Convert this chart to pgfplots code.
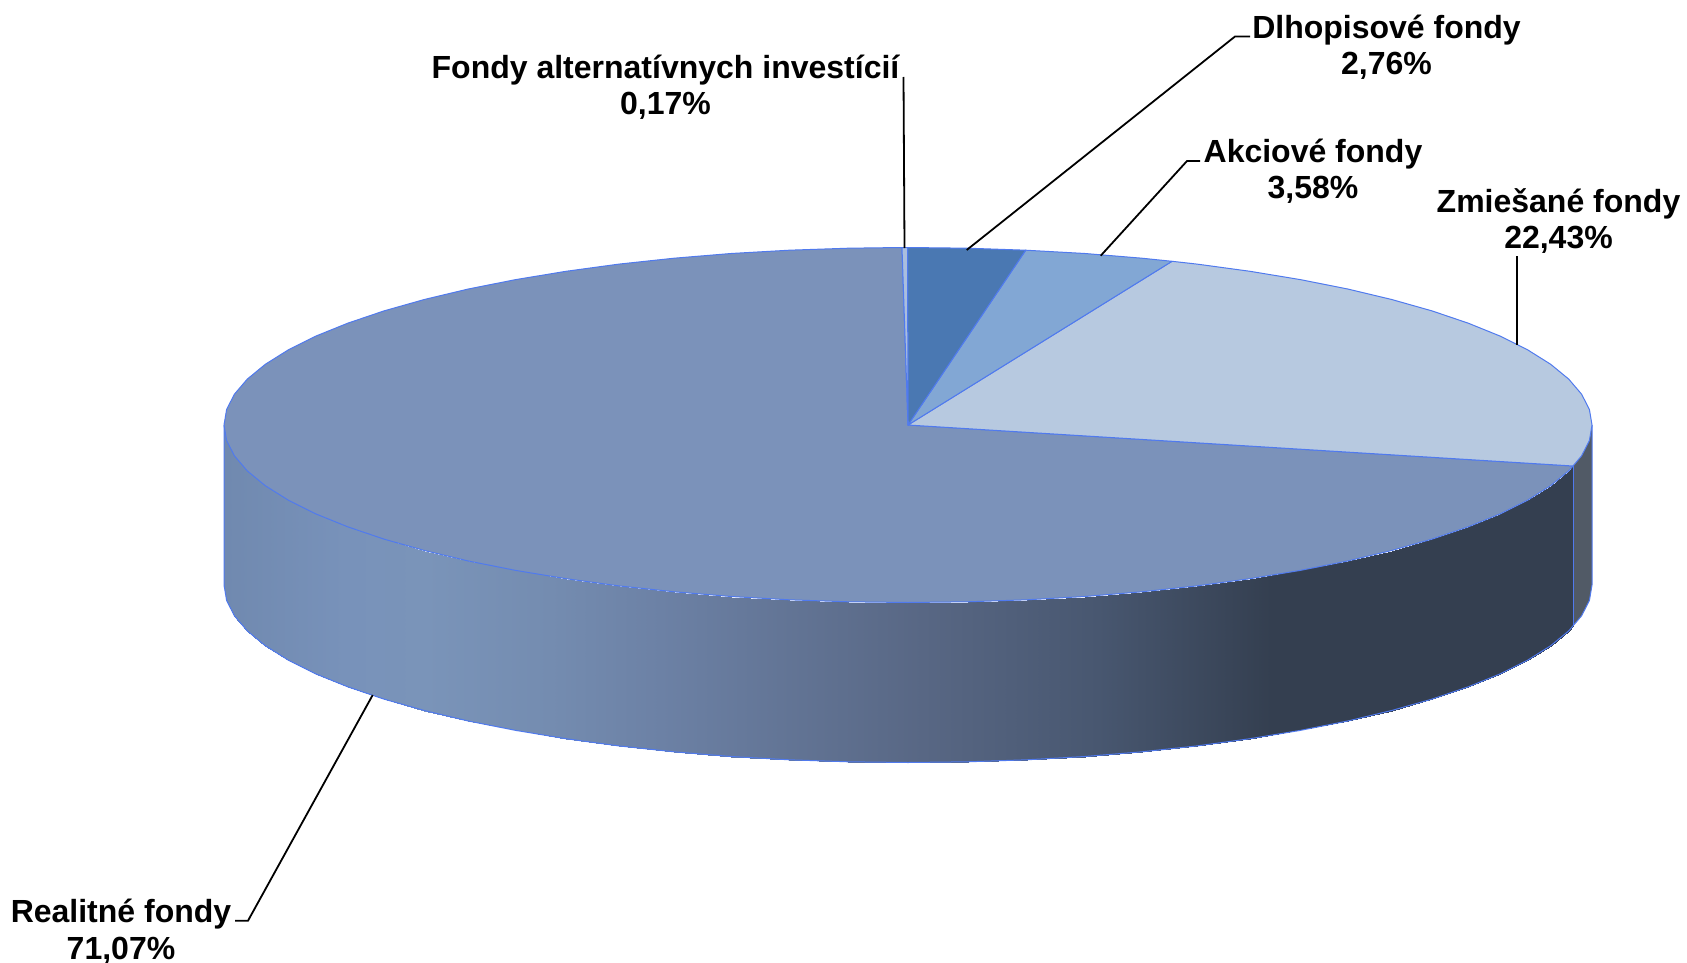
\documentclass[border=0pt]{standalone}
\usepackage{pgfplots}
\pgfplotsset{compat=1.18}
\usepackage{fontspec}
\setmainfont{Liberation Sans}
\definecolor{edge}{RGB}{80,122,238}
\definecolor{cReal}{RGB}{123,146,186}
\definecolor{cZmi}{RGB}{183,201,224}
\definecolor{cAkc}{RGB}{130,167,212}
\definecolor{cDlh}{RGB}{74,120,178}
\definecolor{cAlt}{RGB}{170,190,221}
\definecolor{cSide}{RGB}{81,90,102}
\tikzset{lab/.style={font=\fontsize{32}{36.5}\selectfont\bfseries, align=center, inner sep=0pt, text=black}}
\begin{document}
\begin{tikzpicture}
\useasboundingbox (0,0) rectangle (1687pt,963pt);
\begin{axis}[
  at={(0,0)}, anchor=south west,
  scale only axis, width=1687pt, height=963pt,
  xmin=0, xmax=1687, ymin=0, ymax=963, y dir=reverse,
  hide axis, clip=false,
  colormap={side}{
    rgb255(224)=(112,137,175)
    rgb255(345)=(120,146,186)
    rgb255(425)=(122,148,185)
    rgb255(550)=(116,140,176)
    rgb255(661)=(108,129,165)
    rgb255(923)=(88,103,132)
    rgb255(1098)=(72,87,112)
    rgb255(1272)=(52,63,80)
    rgb255(1592)=(52,63,80)
  },
  point meta min=224, point meta max=1592,
]
% side of Realitne fondy
\addplot[surf, shader=interp, mesh/rows=35, mesh/cols=2, point meta=x] table {
x y
1573 466
1573 626
1568.7 470.9
1568.7 630.9
1550.7 485.7
1550.7 645.7
1527.9 500
1527.9 660
1500.4 513.8
1500.4 673.8
1468.3 526.8
1468.3 686.8
1432 539.1
1432 699.1
1391.7 550.5
1391.7 710.5
1347.7 561
1347.7 721
1300.3 570.4
1300.3 730.4
1250 578.7
1250 738.7
1197.1 585.9
1197.1 745.9
1141.9 591.8
1141.9 751.8
1085 596.5
1085 756.5
1026.8 599.8
1026.8 759.8
967.6 601.8
967.6 761.8
908 602.5
908 762.5
848.4 601.8
848.4 761.8
789.2 599.8
789.2 759.8
731 596.5
731 756.5
674.1 591.8
674.1 751.8
618.9 585.9
618.9 745.9
566 578.7
566 738.7
515.7 570.4
515.7 730.4
468.3 561
468.3 721
424.3 550.5
424.3 710.5
384 539.1
384 699.1
347.7 526.8
347.7 686.8
315.6 513.8
315.6 673.8
288.1 500
288.1 660
265.3 485.7
265.3 645.7
247.3 470.9
247.3 630.9
234.4 455.8
234.4 615.8
226.6 440.5
226.6 600.5
224 425
224 585
};
% side of Zmiesane fondy
\addplot[fill=cSide, draw=none] coordinates {(1573,466)(1581.6,455.8)(1589.4,440.5)(1592,425)(1592,585)(1589.4,600.5)(1581.6,615.8)(1573,626)} --cycle;
% outline of the side
\addplot[draw=edge, line width=1pt] coordinates {(1592,425)(1592,585)(1589.4,600.5)(1581.6,615.8)(1568.7,630.9)(1550.7,645.7)(1527.9,660)(1500.4,673.8)(1468.3,686.8)(1432,699.1)(1391.7,710.5)(1347.7,721)(1300.3,730.4)(1250,738.7)(1197.1,745.9)(1141.9,751.8)(1085,756.5)(1026.8,759.8)(967.6,761.8)(908,762.5)(848.4,761.8)(789.2,759.8)(731,756.5)(674.1,751.8)(618.9,745.9)(566,738.7)(515.7,730.4)(468.3,721)(424.3,710.5)(384,699.1)(347.7,686.8)(315.6,673.8)(288.1,660)(265.3,645.7)(247.3,630.9)(234.4,615.8)(226.6,600.5)(224,585)(224,425)};
\addplot[draw=edge, line width=0.8pt] coordinates {(1573,466)(1573,626)};
% top: Realitne fondy 71,07
\addplot[fill=cReal, draw=edge, line width=1pt, line join=round] coordinates {(908,425)(1573,466)(1568.7,470.9)(1550.7,485.7)(1527.9,500)(1500.4,513.8)(1468.3,526.8)(1432,539.1)(1391.7,550.5)(1347.7,561)(1300.3,570.4)(1250,578.7)(1197.1,585.9)(1141.9,591.8)(1085,596.5)(1026.8,599.8)(967.6,601.8)(908,602.5)(848.4,601.8)(789.2,599.8)(731,596.5)(674.1,591.8)(618.9,585.9)(566,578.7)(515.7,570.4)(468.3,561)(424.3,550.5)(384,539.1)(347.7,526.8)(315.6,513.8)(288.1,500)(265.3,485.7)(247.3,470.9)(234.4,455.8)(226.6,440.5)(224,425)(226.6,409.5)(234.4,394.2)(247.3,379.1)(265.3,364.3)(288.1,350)(315.6,336.2)(347.7,323.2)(384,310.9)(424.3,299.5)(468.3,289)(515.7,279.6)(566,271.3)(618.9,264.1)(674.1,258.2)(731,253.5)(789.2,250.2)(848.4,248.2)(902,247.5)} --cycle;
% top: Zmiesane fondy 22,43
\addplot[fill=cZmi, draw=edge, line width=1pt, line join=round] coordinates {(908,425)(1172,261.3)(1197.1,264.1)(1250,271.3)(1300.3,279.6)(1347.7,289)(1391.7,299.5)(1432,310.9)(1468.3,323.2)(1500.4,336.2)(1527.9,350)(1550.7,364.3)(1568.7,379.1)(1581.6,394.2)(1589.4,409.5)(1592,425)(1589.4,440.5)(1581.6,455.8)(1573,466)} --cycle;
% top: Akciove fondy 3,58
\addplot[fill=cAkc, draw=edge, line width=1pt, line join=round] coordinates {(908,425)(1025.7,250.2)(1085,253.5)(1141.9,258.2)(1172,261.3)} --cycle;
% top: Dlhopisove fondy 2,76
\addplot[fill=cDlh, draw=edge, line width=1pt, line join=round] coordinates {(908,425)(907.5,247.5)(967.6,248.2)(1025.7,250.2)} --cycle;
% top: Fondy alternativnych investicii 0,17
\addplot[fill=cAlt, draw=edge, line width=1pt, line join=round] coordinates {(908,425)(902,247.5)(907.5,247.5)} --cycle;
% leader lines
\addplot[black, line width=1.8pt] coordinates {(903.5,77)(904.5,248)};
\addplot[black, line width=1.8pt] coordinates {(966.7,250)(1235,36.5)(1250,36.5)};
\addplot[black, line width=1.8pt] coordinates {(1100.7,255.7)(1187,161)(1200,161)};
\addplot[black, line width=1.8pt] coordinates {(1517,345)(1517,256)};
\addplot[black, line width=1.8pt] coordinates {(372.7,695)(248,920.7)(235,920.7)};
% labels
\node[lab] at (axis cs:665.5,87) {Fondy alternatívnych investícií\\0,17\%};
\node[lab] at (axis cs:1386.5,47) {Dlhopisové fondy\\2,76\%};
\node[lab] at (axis cs:1313,171) {Akciové fondy\\3,58\%};
\node[lab] at (axis cs:1558.5,221) {Zmiešané fondy\\22,43\%};
\node[lab] at (axis cs:121,931.5) {Realitné fondy\\71,07\%};
\end{axis}
\end{tikzpicture}
\end{document}
